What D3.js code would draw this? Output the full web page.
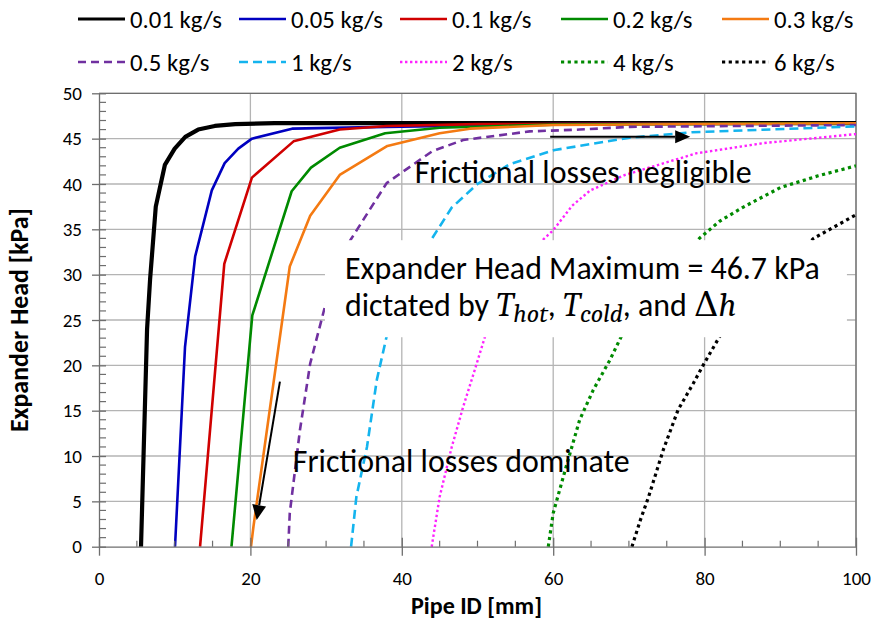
<!DOCTYPE html>
<html>
<head>
<meta charset="utf-8">
<script src="https://cdn.jsdelivr.net/npm/d3@7"></script>
<style>
  html, body { margin: 0; padding: 0; background: #ffffff; }
  svg { display: block; }
</style>
</head>
<body>
<svg id="chart" width="876" height="626"></svg>
<script>
// Expander head available versus pipe inner diameter, one curve per mass flow rate.

const flowLabels = ["0.01 kg/s", "0.05 kg/s", "0.1 kg/s", "0.2 kg/s", "0.3 kg/s",
                    "0.5 kg/s", "1 kg/s", "2 kg/s", "4 kg/s", "6 kg/s"];

// Pipe ID [mm] and expander head [kPa] for each flow rate
const pipeId001 = [5.55, 6.35, 6.75, 7.5, 8.7, 10.0, 11.4, 13.1, 15.3, 18.0, 23.2, 40, 100];
const head001   = [0, 24.0, 29.5, 37.5, 42.1, 43.9, 45.2, 46.0, 46.4, 46.6, 46.7, 46.7, 46.7];

const pipeId005 = [10.04, 11.36, 12.7, 14.9, 16.6, 18.4, 20.2, 25.5, 38, 60, 100];
const head005   = [0, 22.0, 32.0, 39.3, 42.3, 43.9, 45.0, 46.1, 46.3, 46.6, 46.7];

const pipeId01 = [13.35, 16.55, 20.2, 25.7, 31.8, 38, 50, 100];
const head01   = [0, 31.2, 40.7, 44.7, 46.0, 46.4, 46.6, 46.7];

const pipeId02 = [17.5, 20.25, 25.45, 28.0, 31.8, 37.8, 45, 60, 100];
const head02   = [0, 25.5, 39.2, 41.8, 44.0, 45.6, 46.2, 46.55, 46.7];

const pipeId03 = [20.08, 20.4, 25.2, 27.9, 31.8, 38.1, 45, 49, 60, 100];
const head03   = [0, 2.2, 30.9, 36.5, 41.0, 44.2, 45.6, 46.1, 46.5, 46.7];

const pipeId05 = [25.0, 25.2, 26.55, 27.9, 29.9, 33.2, 38.0, 44.0, 48.1, 56.9, 63.5, 70.1, 100];
const head05   = [0, 3.7, 12.9, 20.2, 26.65, 33.8, 40.1, 43.6, 44.85, 45.8, 46.0, 46.3, 46.5];

const pipeId1 = [33.3, 34.0, 35.4, 36.7, 38.0, 44.0, 46.6, 50.0, 54.3, 60.2, 70.1, 78.3, 100];
const head1   = [0, 5.5, 11.0, 18.4, 23.2, 34.0, 37.4, 40.0, 42.2, 43.75, 45.1, 45.7, 46.35];

const pipeId2 = [43.95, 45.0, 46.6, 48.1, 49.9, 51.0, 58.7, 60.0, 62.5, 64.9, 69.5, 79.0, 87.7, 100];
const head2   = [0, 5.5, 11.0, 15.4, 20.2, 23.2, 33.9, 34.9, 37.6, 39.3, 41.0, 43.4, 44.5, 45.5];

const pipeId4 = [59.35, 60.0, 61.6, 63.5, 65.3, 67.5, 69.0, 79.3, 82, 85, 90, 95, 100];
const head4   = [0, 3.7, 8.5, 14.0, 17.3, 20.6, 23.2, 34.0, 35.9, 37.4, 39.6, 40.9, 42.0];

const pipeId6 = [70.4, 71.5, 72.6, 74.55, 76.5, 78.5, 79.8, 82.0, 94.4, 100];
const head6   = [0, 2.9, 5.5, 10.7, 15.1, 18.0, 20.0, 23.2, 34.0, 36.6];

const xTickValues = [0, 20, 40, 60, 80, 100];
const xMinorTicks = [5, 10, 15, 25, 30, 35, 45, 50, 55, 65, 70, 75, 85, 90, 95];
const yTickValues = [0, 5, 10, 15, 20, 25, 30, 35, 40, 45, 50];

// Line styles for the ten curves (same order as flowLabels)
const seriesStyles = [
  { color: "#000000", width: 4.2, dash: null },
  { color: "#0000c0", width: 2.6, dash: null },
  { color: "#d00000", width: 2.6, dash: null },
  { color: "#008a00", width: 2.6, dash: null },
  { color: "#f47a12", width: 2.6, dash: null },
  { color: "#7030a0", width: 2.6, dash: "8,5" },
  { color: "#14b4ee", width: 2.6, dash: "9,5" },
  { color: "#ff22ff", width: 2.4, dash: "2.4,2.6" },
  { color: "#008a00", width: 3.2, dash: "3.2,3.5" },
  { color: "#000000", width: 3.2, dash: "3.2,3.5" }
];

const seriesX = [pipeId001, pipeId005, pipeId01, pipeId02, pipeId03, pipeId05, pipeId1, pipeId2, pipeId4, pipeId6];
const seriesY = [head001, head005, head01, head02, head03, head05, head1, head2, head4, head6];
const series = flowLabels.map((label, i) => ({
  label,
  style: seriesStyles[i],
  points: seriesX[i].map((x, j) => ({ x, y: seriesY[i][j] }))
}));

const FONT = "Carlito, Calibri, Lato, 'Open Sans', sans-serif";
const svg = d3.select("#chart");

const plot = { left: 99, right: 856, top: 93.3, bottom: 546.7 };
const x = d3.scaleLinear().domain([0, 100]).range([plot.left, plot.right]);
const y = d3.scaleLinear().domain([0, 50]).range([plot.bottom, plot.top]);

// Shrink or grow a text element until it spans the wanted width
function fitWidth(sel, width) {
  const size = parseFloat(sel.attr("font-size"));
  const w = sel.node().getComputedTextLength();
  sel.attr("font-size", (size * width / w).toFixed(2));
  return sel;
}

// Gridlines
const grid = svg.append("g").attr("stroke", "#b4b4b4").attr("stroke-width", 1.3);
grid.selectAll("line.h").data(yTickValues.slice(1)).join("line")
  .attr("x1", plot.left).attr("x2", plot.right)
  .attr("y1", d => y(d)).attr("y2", d => y(d));
grid.selectAll("line.v").data(xTickValues.slice(1)).join("line")
  .attr("x1", d => x(d)).attr("x2", d => x(d))
  .attr("y1", plot.top).attr("y2", plot.bottom);

// Plot frame (top and right edges)
svg.append("path")
  .attr("d", `M${plot.left},${plot.top}H${plot.right}V${plot.bottom}`)
  .attr("fill", "none").attr("stroke", "#6e6e6e").attr("stroke-width", 1.3);

// Curves
svg.append("clipPath").attr("id", "plotClip").append("rect")
  .attr("x", plot.left).attr("y", plot.top - 3)
  .attr("width", plot.right - plot.left).attr("height", plot.bottom - plot.top + 6);

const line = d3.line().x(d => x(d.x)).y(d => y(d.y));
svg.append("g").attr("clip-path", "url(#plotClip)")
  .selectAll("path").data(series).join("path")
  .attr("d", d => line(d.points))
  .attr("fill", "none")
  .attr("stroke", d => d.style.color)
  .attr("stroke-width", d => d.style.width)
  .attr("stroke-dasharray", d => d.style.dash)
  .attr("stroke-linejoin", "round");

// Axes
const axisColor = "#6e6e6e";
const yAxis = d3.axisLeft(y).tickValues(yTickValues).tickSizeInner(7).tickSizeOuter(0).tickPadding(10);
const yG = svg.append("g").attr("transform", `translate(${plot.left},0)`).call(yAxis);
yG.selectAll("line").attr("x2", -7).attr("x1", 7);

const xAxis = d3.axisBottom(x).tickValues(xTickValues).tickSizeInner(9).tickSizeOuter(0).tickPadding(16);
const xG = svg.append("g").attr("transform", `translate(0,${plot.bottom})`).call(xAxis);
xG.selectAll(".tick line").attr("y1", -9);

[yG, xG].forEach(g => {
  g.select(".domain").attr("stroke", axisColor).attr("stroke-width", 1.3);
  g.selectAll(".tick line").attr("stroke", axisColor).attr("stroke-width", 1.3);
  g.selectAll("text").attr("font-family", FONT).attr("font-size", 19).attr("fill", "#000");
});

// Minor ticks, drawn inward
const yMinor = d3.range(0, 51).filter(v => v % 5 !== 0);
svg.append("g").selectAll("line").data(yMinor).join("line")
  .attr("x1", plot.left).attr("x2", plot.left + 7)
  .attr("y1", d => y(d)).attr("y2", d => y(d))
  .attr("stroke", axisColor).attr("stroke-width", 1.2);
svg.append("g").selectAll("line").data(xMinorTicks).join("line")
  .attr("x1", d => x(d)).attr("x2", d => x(d))
  .attr("y1", plot.bottom).attr("y2", plot.bottom - 6)
  .attr("stroke", axisColor).attr("stroke-width", 1.2);

// Axis titles
const yTitle = svg.append("text")
  .attr("transform", `translate(28,${(plot.top + plot.bottom) / 2}) rotate(-90)`)
  .attr("text-anchor", "middle")
  .attr("font-family", FONT).attr("font-weight", "bold").attr("font-size", 18)
  .text("Expander Head [kPa]");
fitWidth(yTitle, 224);

const xTitle = svg.append("text")
  .attr("x", (plot.left + plot.right) / 2 - 1).attr("y", 614)
  .attr("text-anchor", "middle")
  .attr("font-family", FONT).attr("font-weight", "bold").attr("font-size", 18)
  .text("Pipe ID [mm]");
fitWidth(xTitle, 131);

// Legend: two rows of five
const legend = svg.append("g");
const legendItems = legend.selectAll("g").data(series).join("g")
  .attr("transform", (d, i) => `translate(${78 + (i % 5) * 161},${i < 5 ? 19 : 62})`);
legendItems.append("line")
  .attr("x1", 0).attr("x2", 47).attr("y1", 0).attr("y2", 0)
  .attr("stroke", d => d.style.color)
  .attr("stroke-width", d => Math.min(d.style.width, 3.2))
  .attr("stroke-dasharray", d => d.style.dash);
const legendText = legendItems.append("text")
  .attr("x", 52).attr("y", 0).attr("dy", "0.35em")
  .attr("font-family", FONT).attr("font-size", 20)
  .text(d => d.label);
const refWidth = legendText.filter((d, i) => i === 0).node().getComputedTextLength();
legendText.attr("font-size", (20 * 92 / refWidth).toFixed(2));

// Annotation panel over the curves
svg.append("rect")
  .attr("x", x(29.85)).attr("y", y(33.8))
  .attr("width", x(98.8) - x(29.85)).attr("height", y(23.1) - y(33.8))
  .attr("fill", "#ffffff");

const note1 = svg.append("text")
  .attr("x", x(32.5)).attr("y", y(29.5))
  .attr("font-family", FONT).attr("font-size", 26)
  .text("Expander Head Maximum = 46.7 kPa");
fitWidth(note1, 475);
const noteSize = parseFloat(note1.attr("font-size"));

const mathFont = "'Cambria Math', Cambria, 'DejaVu Serif', 'Liberation Serif', serif";
const mathSize = noteSize * 1.06;
const subSize = noteSize * 0.8;
const note2 = svg.append("text")
  .attr("x", x(32.5)).attr("y", y(25.4))
  .attr("font-family", FONT).attr("font-size", noteSize);
note2.append("tspan").text("dictated by ");
note2.append("tspan").attr("font-family", mathFont).attr("font-style", "italic")
  .attr("font-size", mathSize).text("T");
note2.append("tspan").attr("font-family", mathFont).attr("font-style", "italic")
  .attr("font-size", subSize).attr("dy", 6).text("hot");
note2.append("tspan").attr("dy", -6).text(", ");
note2.append("tspan").attr("font-family", mathFont).attr("font-style", "italic")
  .attr("font-size", mathSize).text("T");
note2.append("tspan").attr("font-family", mathFont).attr("font-style", "italic")
  .attr("font-size", subSize).attr("dy", 6).text("cold");
note2.append("tspan").attr("dy", -6).text(", and ");
note2.append("tspan").attr("font-family", mathFont)
  .attr("font-size", mathSize).text("Δ");
note2.append("tspan").attr("font-family", mathFont).attr("font-style", "italic")
  .attr("font-size", mathSize).text("h");

const note3 = svg.append("text")
  .attr("x", x(41.7)).attr("y", y(40.1))
  .attr("font-family", FONT).attr("font-size", 26)
  .text("Frictional losses negligible");
fitWidth(note3, 337);

const note4 = svg.append("text")
  .attr("x", x(25.6)).attr("y", y(8.2))
  .attr("font-family", FONT).attr("font-size", 26)
  .text("Frictional losses dominate");
fitWidth(note4, 337);

// Arrows
function arrow(x0, y0, x1, y1, headLen, headHalf) {
  const px0 = x(x0), py0 = y(y0), px1 = x(x1), py1 = y(y1);
  const ang = Math.atan2(py1 - py0, px1 - px0);
  const bx = px1 - headLen * Math.cos(ang), by = py1 - headLen * Math.sin(ang);
  svg.append("line")
    .attr("x1", px0).attr("y1", py0).attr("x2", bx).attr("y2", by)
    .attr("stroke", "#000").attr("stroke-width", 2);
  const nx = -Math.sin(ang) * headHalf, ny = Math.cos(ang) * headHalf;
  svg.append("path")
    .attr("d", `M${px1},${py1}L${bx + nx},${by + ny}L${bx - nx},${by - ny}Z`)
    .attr("fill", "#000");
}
arrow(59.6, 45.2, 78.1, 45.2, 15, 6.5);
arrow(23.9, 18.2, 20.83, 2.94, 15, 7);
</script>
</body>
</html>
